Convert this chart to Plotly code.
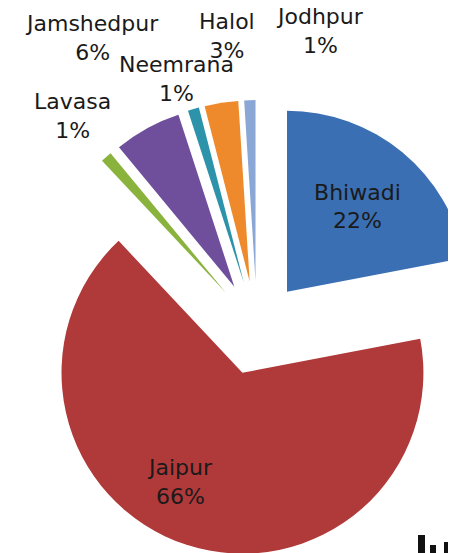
import plotly.graph_objects as go

# ---- data ----
labels = ["Bhiwadi", "Jaipur", "Lavasa", "Jamshedpur", "Neemrana", "Halol", "Jodhpur"]
values = [22, 66, 1, 6, 1, 3, 1]
colors = ["#3A6FB3", "#B0393A", "#8AB33E", "#6F4E9C", "#2C93AB", "#EE8A2B", "#8BA7D5"]

# label centres (page pixels) for slices labelled by annotation
label_pos = {
    "Jaipur": (180, 482),
    "Lavasa": (72, 116),
    "Jamshedpur": (92, 38),
    "Neemrana": (176, 79),
    "Halol": (227, 36),
    "Jodhpur": (320, 31),
}

PAGE_OFF = 8              # default body margin of the html page
PULL = 0.26
ML, MT = 21, 92           # margins placing the pie box
BOX = 456                 # pie box size (px)
W, H = ML + BOX, MT + BOX

textpos = ["inside" if lab == "Bhiwadi" else "none" for lab in labels]

fig = go.Figure(go.Pie(
    labels=labels,
    values=values,
    sort=False,
    direction="clockwise",
    rotation=0,
    pull=PULL,
    marker=dict(colors=colors, line=dict(width=0)),
    textposition=textpos,
    texttemplate="%{label}<br>%{percent}",
    insidetextorientation="horizontal",
    insidetextfont=dict(family="DejaVu Sans", size=22, color="#1a1a1a"),
    showlegend=False,
    hoverinfo="label+percent",
))

def px2paper(x, y):
    return (x - PAGE_OFF - ML) / BOX, 1 - (y - PAGE_OFF - MT) / BOX

annotations = []
for lab, val in zip(labels, values):
    if lab in label_pos:
        xp, yp = px2paper(*label_pos[lab])
        annotations.append(dict(
            x=xp, y=yp, xref="paper", yref="paper",
            text=f"{lab}<br>{val}%", showarrow=False,
            xanchor="center", yanchor="middle",
            font=dict(family="DejaVu Sans", size=22, color="#1a1a1a"),
        ))

# fragment of a logo visible in the lower-right corner of the original
shapes = []
for (x0, y0, x1, y1) in [(418, 535, 425, 560), (430, 545, 436, 560), (444, 542, 450, 560)]:
    a0, b0 = px2paper(x0, y0)
    a1, b1 = px2paper(x1, y1)
    shapes.append(dict(type="rect", xref="paper", yref="paper",
                       x0=a0, x1=a1, y0=b1, y1=b0,
                       fillcolor="#111111", line=dict(width=0)))

fig.update_layout(
    width=W, height=H,
    margin=dict(l=ML, r=0, t=MT, b=0),
    paper_bgcolor="white",
    plot_bgcolor="white",
    annotations=annotations,
    shapes=shapes,
)

fig.write_html("out.html")
